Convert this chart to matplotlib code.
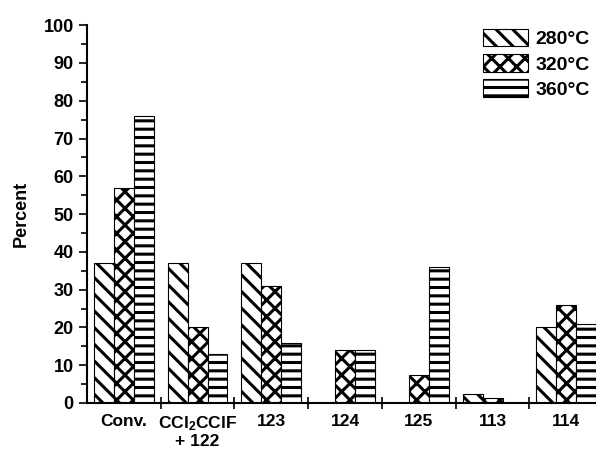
import numpy as np
import matplotlib
matplotlib.use("Agg")
import matplotlib.pyplot as plt
from matplotlib.ticker import MultipleLocator

plt.rcParams['font.family'] = ['Liberation Sans', 'DejaVu Sans']
plt.rcParams['font.weight'] = 'bold'
plt.rcParams['mathtext.fontset'] = 'custom'
plt.rcParams['mathtext.rm'] = 'Liberation Sans:bold'
plt.rcParams['mathtext.default'] = 'rm'
plt.rcParams['hatch.linewidth'] = 2.2

categories = ['Conv.', 'CCl$_2$CClF\n+ 122', '123', '124', '125', '113', '114']
temps = ['280°C', '320°C', '360°C']
v280 = [37, 37, 37, 0, 0, 2.3, 20]
v320 = [57, 20, 31, 14, 7.4, 1.4, 26]
v360 = [76, 13, 16, 14, 36, 0, 21]
hatches = ['\\\\', 'xx', '--']

fig = plt.figure(figsize=(5.96, 4.53), dpi=100)
ax = fig.add_axes([0.146, 0.1104, 0.866, 0.834])

x = np.arange(1, len(categories) + 1)
w = 0.27
for i, (vals, lab, h) in enumerate(zip([v280, v320, v360], temps, hatches)):
    ax.bar(x + (i - 1) * w, vals, w, label=lab, color='white',
           edgecolor='black', hatch=h, linewidth=0.8)

ax.set_xlim(0.5, 7.5)
ax.set_ylim(0, 100)
ax.yaxis.set_major_locator(MultipleLocator(10))
ax.yaxis.set_minor_locator(MultipleLocator(5))
ax.set_xticks(np.arange(1.5, 7.5, 1))
ax.set_xticklabels([])
ax.set_xticks(x, minor=True)
ax.set_xticklabels(categories, minor=True, fontsize=12.5, fontweight='bold',
                   linespacing=1.1)
ax.tick_params(axis='x', which='major', direction='inout', length=8, width=1.2)
ax.tick_params(axis='x', which='minor', length=0, pad=8)
ax.tick_params(axis='y', which='major', direction='out', length=6, width=1.2,
               labelsize=13)
ax.tick_params(axis='y', which='minor', direction='out', length=4, width=1.2)
for lbl in ax.get_yticklabels():
    lbl.set_fontweight('bold')

ax.spines['top'].set_visible(False)
ax.spines['right'].set_visible(False)
ax.spines['left'].set_linewidth(1.5)
ax.spines['bottom'].set_linewidth(1.5)

ax.set_ylabel('Percent', fontsize=13, fontweight='bold', labelpad=10)

leg = ax.legend(loc='upper right', bbox_to_anchor=(0.975, 0.99), frameon=False,
                fontsize=14, handlelength=2.3, handleheight=1.0,
                labelspacing=0.3, handletextpad=0.4, borderaxespad=0,
                borderpad=0)

fig.savefig('out.png', dpi=100)
